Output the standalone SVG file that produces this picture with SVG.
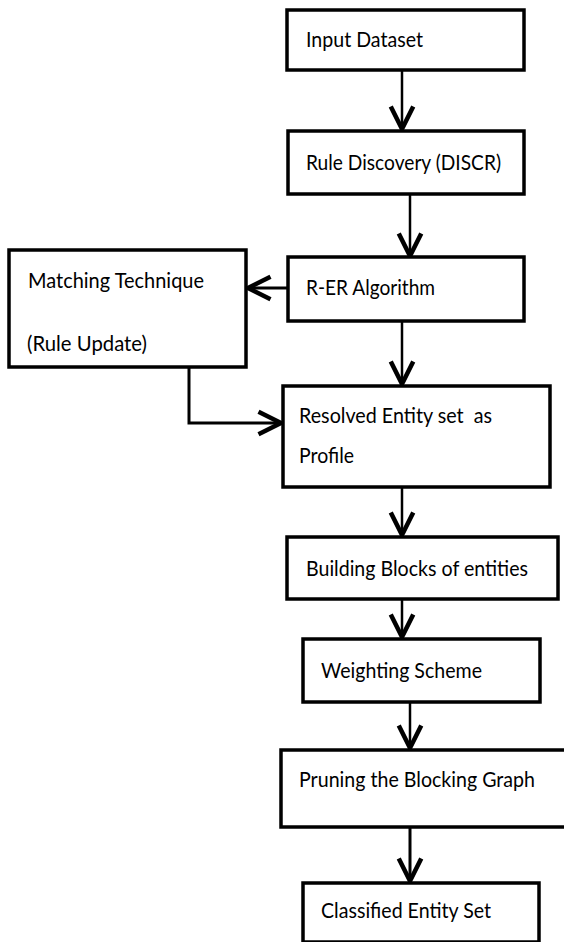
<svg xmlns="http://www.w3.org/2000/svg" width="564" height="942" viewBox="0 0 564 942">
<style>
.box{fill:#fff;stroke:#000;stroke-width:3.5}
.lbl{font-family:Lato,"Noto Sans","Liberation Sans",sans-serif;font-size:22px;fill:#000}
.c{fill:none;stroke:#000;stroke-width:2.5}
.c3{fill:none;stroke:#000;stroke-width:3}
</style>
<defs>
<marker id="arr" markerUnits="userSpaceOnUse" markerWidth="30" markerHeight="30" viewBox="-16 -10 20 20" refX="0" refY="0" orient="auto">
<path d="M-15,-7.5 L0,0 L-15,7.5" fill="none" stroke="#000" stroke-width="3"/>
</marker>
</defs>
<rect width="564" height="942" fill="#fff"/>
<g id="connectors">
<line class="c" x1="402" y1="71" x2="402" y2="129" marker-end="url(#arr)"/>
<line class="c" x1="410" y1="195" x2="410" y2="256" marker-end="url(#arr)"/>
<line class="c3" x1="288" y1="288" x2="248" y2="288" marker-end="url(#arr)"/>
<line class="c" x1="402" y1="321" x2="402" y2="384" marker-end="url(#arr)"/>
<polyline class="c3" points="189,367 189,423 281,423" marker-end="url(#arr)"/>
<line class="c" x1="402" y1="488" x2="402" y2="535" marker-end="url(#arr)"/>
<line class="c" x1="402" y1="600" x2="402" y2="637" marker-end="url(#arr)"/>
<line class="c" x1="410" y1="703" x2="410" y2="748" marker-end="url(#arr)"/>
<line class="c3" x1="410" y1="820" x2="410" y2="881" marker-end="url(#arr)"/>
</g>
<g id="input-dataset">
<rect class="box" x="287" y="10" width="237" height="60"/>
<text class="lbl" x="306" y="47" textLength="117" lengthAdjust="spacingAndGlyphs">Input Dataset</text>
</g>
<g id="rule-discovery">
<rect class="box" x="288" y="131" width="236" height="63"/>
<text class="lbl" x="306" y="170" textLength="195" lengthAdjust="spacingAndGlyphs">Rule Discovery (DISCR)</text>
</g>
<g id="rer-algorithm">
<rect class="box" x="288" y="257" width="236" height="64"/>
<text class="lbl" x="306" y="295" textLength="129" lengthAdjust="spacingAndGlyphs">R-ER Algorithm</text>
</g>
<g id="matching-technique">
<rect class="box" x="9" y="250" width="237" height="117"/>
<text class="lbl" x="28" y="288" textLength="176" lengthAdjust="spacingAndGlyphs">Matching Technique</text>
<text class="lbl" x="27" y="351" textLength="120" lengthAdjust="spacingAndGlyphs">(Rule Update)</text>
</g>
<g id="resolved-entity-set">
<rect class="box" x="283" y="386" width="267" height="101"/>
<text class="lbl" x="299" y="423" textLength="193" lengthAdjust="spacingAndGlyphs" xml:space="preserve">Resolved Entity set  as</text>
<text class="lbl" x="299" y="463" textLength="55" lengthAdjust="spacingAndGlyphs">Profile</text>
</g>
<g id="building-blocks">
<rect class="box" x="287" y="537" width="271" height="62"/>
<text class="lbl" x="306" y="576" textLength="222" lengthAdjust="spacingAndGlyphs">Building Blocks of entities</text>
</g>
<g id="weighting-scheme">
<rect class="box" x="303" y="639" width="237" height="63"/>
<text class="lbl" x="321" y="678" textLength="161" lengthAdjust="spacingAndGlyphs">Weighting Scheme</text>
</g>
<g id="pruning">
<rect class="box" x="281" y="750" width="290" height="77"/>
<text class="lbl" x="299" y="787" textLength="236" lengthAdjust="spacingAndGlyphs">Pruning the Blocking Graph</text>
</g>
<g id="classified-entity-set">
<rect class="box" x="303" y="883" width="236" height="59"/>
<text class="lbl" x="321" y="918" textLength="170" lengthAdjust="spacingAndGlyphs">Classified Entity Set</text>
</g>
</svg>
